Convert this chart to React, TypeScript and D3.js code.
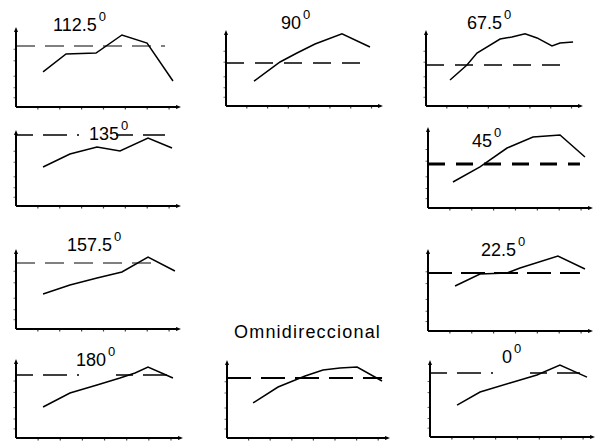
import React from 'react';
import * as d3 from 'd3';

// panel titles (angle in degrees, or the omni case)
const titles = ["112.5", "90", "67.5", "135", "45", "157.5", "22.5", "180", "Omnidireccional", "0"];

// series, x and y in axis units (0..10 on each axis)
const x112 = [1.67, 3.09, 4.94, 6.54, 8.09, 9.69];
const y112 = [4.55, 6.88, 7.01, 9.35, 8.31, 3.38];
const x90 = [1.82, 3.51, 4.61, 5.78, 7.53, 9.35];
const y90 = [3.42, 6.03, 7.26, 8.49, 9.9, 8.08];
const x67 = [1.56, 2.66, 3.31, 4.81, 5.58, 6.43, 7.21, 8.18, 8.7, 9.55];
const y67 = [3.56, 5.62, 7.26, 9.18, 9.45, 9.9, 9.32, 8.22, 8.63, 8.77];
const x135 = [1.67, 3.33, 5.0, 6.42, 8.15, 9.63];
const y135 = [5.34, 7.12, 8.08, 7.53, 9.32, 7.95];
const x45 = [1.54, 3.21, 4.88, 6.48, 8.15, 9.69];
const y45 = [3.33, 5.26, 7.69, 9.1, 9.36, 6.54];
const x157 = [1.67, 3.33, 5.0, 6.54, 8.15, 9.81];
const y157 = [4.55, 5.71, 6.62, 7.4, 9.35, 7.53];
const x22 = [1.67, 3.21, 4.88, 5.68, 8.02, 9.69];
const y22 = [5.7, 7.22, 7.34, 7.97, 9.49, 7.85];
const x180 = [1.65, 3.29, 4.94, 6.34, 7.26, 8.05, 9.57];
const y180 = [4.08, 5.92, 6.97, 7.89, 8.55, 9.34, 7.89];
const xOmni = [1.63, 3.19, 4.88, 6.0, 7.06, 8.13, 9.69];
const yOmni = [4.67, 6.8, 8.27, 9.07, 9.33, 9.47, 7.6];
const x0 = [1.67, 3.09, 4.94, 6.6, 8.02, 9.69];
const y0 = [4.32, 6.08, 7.3, 8.38, 9.73, 8.1];

const seriesX = [x112, x90, x67, x135, x45, x157, x22, x180, xOmni, x0];
const seriesY = [y112, y90, y67, y135, y45, y157, y22, y180, yOmni, y0];

// dashed reference level and where the dashes stop
const refLevels = [7.92, 5.89, 5.62, 9.73, 5.64, 8.57, 7.34, 8.29, 8.0, 8.65];
const refEnds = [9.2, 9.35, 9.35, 9.2, 9.38, 8.7, 9.38, 9.5, 9.69, 9.26];

const xTicks = [1.35, 2.7, 4.05, 5.4, 6.75, 8.1, 9.45];
const yTicks = [1.2, 2.5, 4, 6, 7.5];

// layout of each panel: axis box and title anchor
const boxes = [
  { left: 16, top: 30, w: 162, h: 77, tx: 53, ty: 31 },
  { left: 226, top: 33, w: 154, h: 73, tx: 281, ty: 29 },
  { left: 426, top: 33, w: 154, h: 73, tx: 467, ty: 29 },
  { left: 16, top: 133, w: 162, h: 73, tx: 89, ty: 140 },
  { left: 428, top: 130, w: 162, h: 78, tx: 472, ty: 147 },
  { left: 16, top: 252, w: 162, h: 77, tx: 67, ty: 251 },
  { left: 428, top: 252, w: 162, h: 79, tx: 481, ty: 256 },
  { left: 16, top: 362, w: 164, h: 76, tx: 76, ty: 366 },
  { left: 227, top: 363, w: 160, h: 75, tx: 234, ty: 338 },
  { left: 430, top: 363, w: 162, h: 74, tx: 502, ty: 363 },
];

// dash style of the reference line in each panel
const dashStyles = [
  { color: '#808080', width: 2, dash: '19 10' },
  { color: '#000', width: 1.6, dash: '18 11' },
  { color: '#000', width: 1.6, dash: '18 11' },
  { color: '#000', width: 1.6, dash: '17 10 24 10 2 37' },
  { color: '#000', width: 3, dash: '17 11' },
  { color: '#808080', width: 2, dash: '19 10' },
  { color: '#000', width: 1.8, dash: '24 9' },
  { color: '#000', width: 1.6, dash: '17 10 24 10 2 37' },
  { color: '#000', width: 1.8, dash: '24 10' },
  { color: '#000', width: 1.6, dash: '17 10 24 10 2 37' },
];

const font = "'Liberation Sans', Arial, sans-serif";

const Panel = ({ i }: { i: number }) => {
  const b = boxes[i];
  const x = d3.scaleLinear().domain([0, 10]).range([b.left, b.left + b.w]);
  const y = d3.scaleLinear().domain([0, 10]).range([b.top + b.h, b.top]);
  const pts = seriesX[i].map((v, k) => [v, seriesY[i][k]] as [number, number]);
  const line = d3.line<[number, number]>().x((d) => x(d[0])).y((d) => y(d[1]));
  const ds = dashStyles[i];
  const x0p = x(0), yb = y(0), xe = x(10), yt = y(10);
  const omni = titles[i] === 'Omnidireccional';

  return (
    <g>
      {/* reference level */}
      <line x1={x0p} x2={x(refEnds[i])} y1={y(refLevels[i])} y2={y(refLevels[i])}
        stroke={ds.color} strokeWidth={ds.width} strokeDasharray={ds.dash} />
      {/* ticks */}
      {xTicks.map((t) => (
        <line key={'x' + t} x1={x(t)} x2={x(t)} y1={yb + 1} y2={yb + 2.5} stroke="#444" strokeWidth={1.2} />
      ))}
      {yTicks.map((t) => (
        <line key={'y' + t} x1={x0p - 2.5} x2={x0p - 1} y1={y(t)} y2={y(t)} stroke="#666" strokeWidth={1} />
      ))}
      {/* axes */}
      <line x1={x0p} x2={x0p} y1={yt} y2={yb} stroke="#000" strokeWidth={2} />
      <line x1={x0p} x2={xe} y1={yb} y2={yb} stroke="#000" strokeWidth={2} />
      <path d={`M${x0p - 2},${yt + 2} L${x0p},${yt - 3} L${x0p + 2},${yt + 2} Z`} fill="#000" />
      <path d={`M${xe - 2},${yb - 2} L${xe + 3},${yb} L${xe - 2},${yb + 2} Z`} fill="#000" />
      {/* data */}
      <path d={line(pts) || ''} fill="none" stroke="#000" strokeWidth={1.5} />
      {/* title */}
      {omni ? (
        <text x={b.tx} y={b.ty} fontFamily={font} fontSize={18} letterSpacing={1.2} fill="#000">
          {titles[i]}
        </text>
      ) : (
        <text x={b.tx} y={b.ty} fontFamily={font} fontSize={18} fill="#000">
          {titles[i]}
          <tspan dx={2} dy={-10} fontSize={13}>0</tspan>
        </text>
      )}
    </g>
  );
};

export default function App() {
  return (
    <svg width={599} height={443} style={{ position: 'absolute', left: 0, top: 0, background: '#fff' }}>
      <rect width={599} height={443} fill="#fff" />
      {titles.map((_, i) => (
        <Panel key={i} i={i} />
      ))}
    </svg>
  );
}
